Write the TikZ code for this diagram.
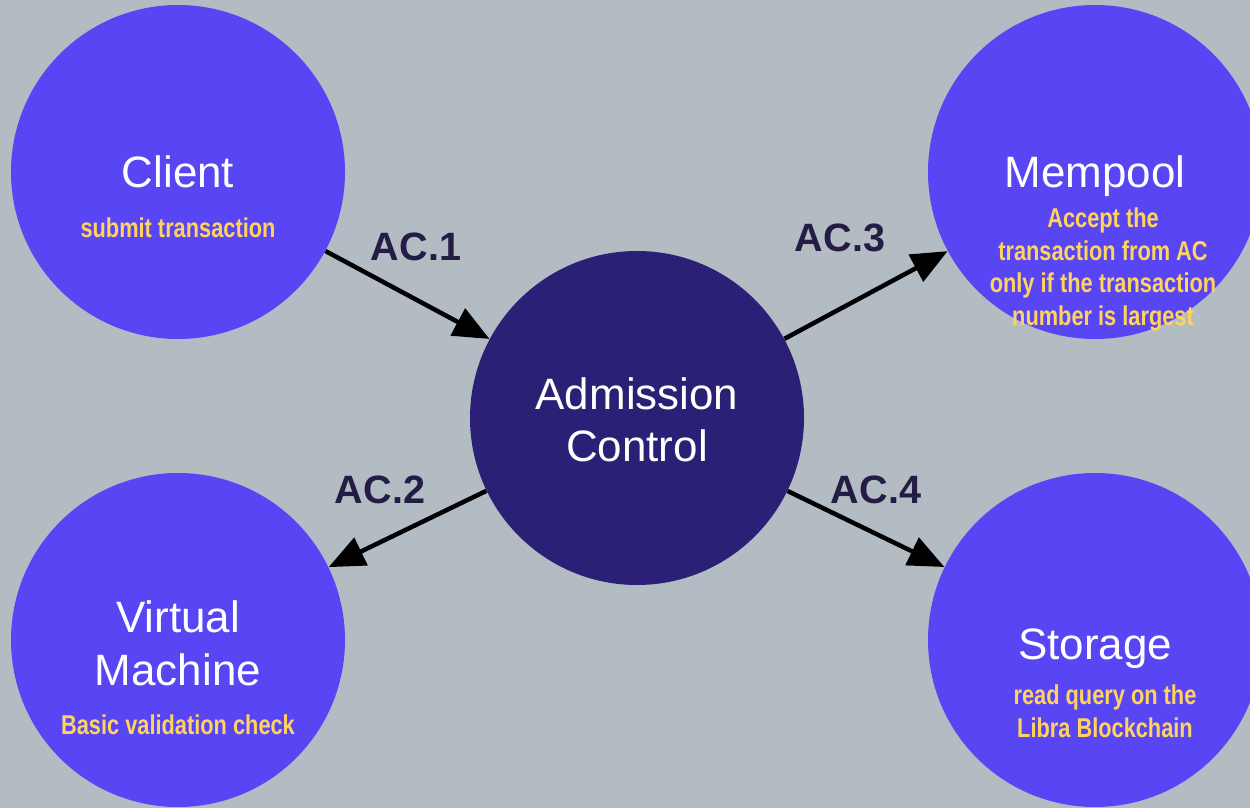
\documentclass[tikz,border=0pt]{standalone}
\usepackage{fontspec}
\setmainfont{Liberation Sans}
\newfontfamily\narrowfont[FakeStretch=0.8]{Liberation Sans}
\usepackage{tikz}
\usetikzlibrary{positioning,arrows.meta}
\usepackage{xcolor}
\definecolor{acbg}{RGB}{179,187,195}
\definecolor{acpurple}{RGB}{88,70,245}
\definecolor{acnavy}{RGB}{42,33,119}
\definecolor{acyellow}{RGB}{255,211,92}
\definecolor{aclabel}{RGB}{35,28,69}

\begin{document}
\begin{tikzpicture}
\tikzstyle{basenode}=[circle, inner sep=0pt, minimum size=6.68cm];
\tikzstyle{comp}=[basenode, fill=acpurple];
\tikzstyle{core}=[basenode, fill=acnavy];
\tikzstyle{title}=[white, align=center, font=\fontsize{25}{30}\selectfont];
\tikzstyle{sub}=[acyellow, align=center, font=\narrowfont\bfseries\fontsize{15.5}{18.7}\selectfont];
\tikzstyle{steplabel}=[aclabel, font=\bfseries\fontsize{22.5}{27}\selectfont];
\tikzstyle{arr}=[line width=0.09cm, black, -{Triangle[length=0.72cm, width=0.6cm]}];

\useasboundingbox (0,0) rectangle (25,16.16);
\clip (0,0) rectangle (25,16.16);
\fill[acbg] (0,0) rectangle (25,16.16);

\node[comp] (client) at (3.56,12.72) {};
\node[comp] (mempool) at (21.9,12.72) {};
\node[core] (ac) at (12.74,7.8) {};
\node[comp] (vm) at (3.56,3.36) {};
\node[comp] (storage) at (21.9,3.36) {};

\node[title] (clientT) at (client) {Client};
\node[sub] (clientS) at ([yshift=-1.12cm]client.center) {submit transaction};

\node[title] (mempoolT) at ([yshift=-0.08cm]mempool.center) {Mempool};
\node[sub] (mempoolS) at ([xshift=0.16cm, yshift=-1.95cm]mempool.center) {Accept the\\ transaction from AC\\ only if the transaction\\ number is largest};

\node[title, font=\fontsize{25}{29.5}\selectfont] (acT) at ([yshift=-0.04cm]ac.center) {Admission\\ Control};

\node[title, font=\fontsize{25}{30}\selectfont] (vmT) at ([yshift=-0.07cm]vm.center) {Virtual\\ Machine};
\node[sub] (vmS) at ([yshift=-1.7cm]vm.center) {Basic validation check};

\node[title] (storageT) at ([yshift=-0.18cm]storage.center) {Storage};
\node[sub] (storageS) at ([xshift=0.2cm, yshift=-1.42cm]storage.center) {read query on the\\ Libra Blockchain};

\draw[ arr ] (client) -- (ac);
\draw[ arr ] (ac) -- (vm);
\draw[ arr ] (ac) -- (mempool);
\draw[ arr ] (ac) -- (storage);

\node[steplabel] (ac1) at (8.32,11.22) {AC.1};
\node[steplabel] (ac2) at (7.6,6.36) {AC.2};
\node[steplabel] (ac3) at (16.8,11.4) {AC.3};
\node[steplabel] (ac4) at (17.52,6.36) {AC.4};

\end{tikzpicture}
\end{document}
